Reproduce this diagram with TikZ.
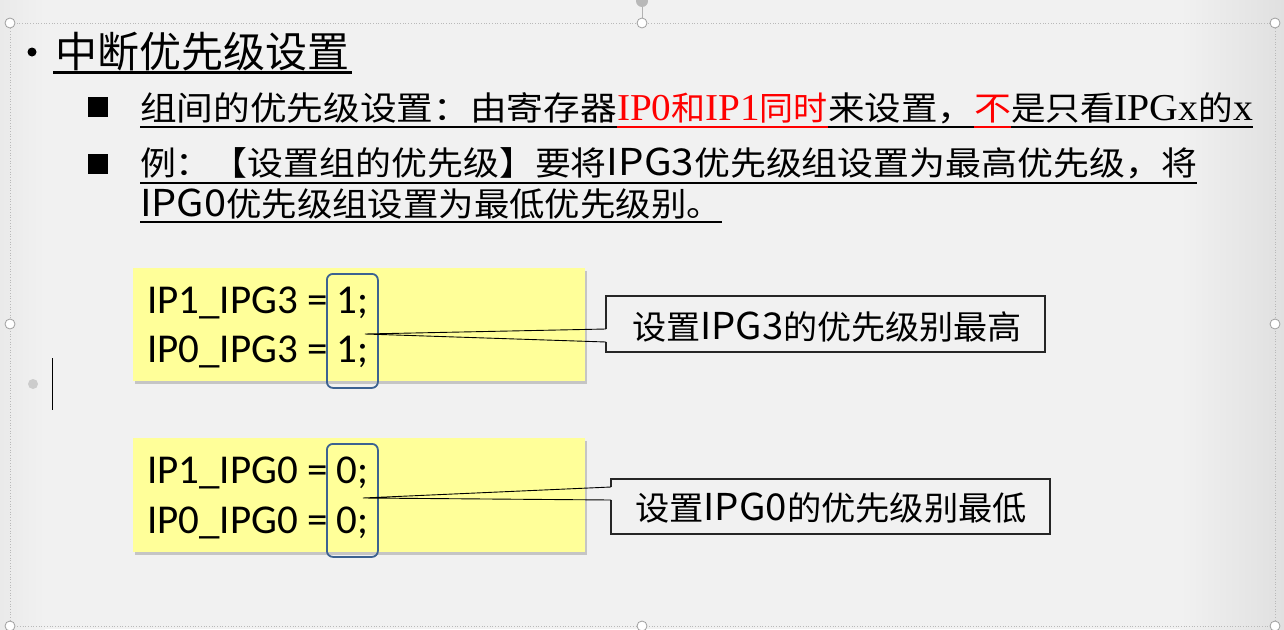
\documentclass[tikz,border=0pt]{standalone}
\usepackage{fontspec}
\usepackage{graphicx}
\setmainfont{Liberation Serif}
\newfontfamily\cjkfont{Noto Sans CJK SC}
\newfontfamily\codefamily{Carlito}
\newfontfamily\romanfamily{Liberation Serif}
\newcommand{\cf}{\cjkfont\fontsize{33}{36}\selectfont}
\newcommand{\lsf}{\cjkfont\fontsize{37}{36}\selectfont}
\newcommand{\lsr}{\romanfamily\fontsize{38}{36}\selectfont}
\newcommand{\codef}{\codefamily\fontsize{41}{44}\selectfont}
\newcommand{\fitto}[2]{\resizebox{#1pt}{\height}{#2}}
\definecolor{bgc}{RGB}{241,241,241}
\definecolor{bgl}{RGB}{234,234,234}
\definecolor{bgr}{RGB}{224,224,224}
\definecolor{yel}{RGB}{255,255,153}
\definecolor{bluel}{RGB}{60,98,145}
\definecolor{redc}{RGB}{255,0,0}
\tikzset{
  txt/.style={inner sep=0pt, outer sep=0pt, anchor=base west},
  ul/.style={line width=2pt},
  ybox/.style={fill=yel, draw=none, inner sep=0pt, anchor=north west},
  shadowbox/.style={fill=black, opacity=0.18, draw=none, inner sep=0pt, anchor=north west},
  bbox/.style={draw=bluel, line width=1.8pt, rounded corners=6pt, inner sep=0pt, anchor=north west},
  calloutline/.style={draw=black!85, line width=1.4pt, line join=miter},
  leader/.style={draw=black, line width=0.9pt},
  handle/.style={circle, draw=gray!75, fill=white, line width=0.8pt, minimum size=10pt, inner sep=0pt},
  selline/.style={draw=gray!55, dotted, line width=0.7pt},
  sqbullet/.style={fill=black, minimum size=20pt, inner sep=0pt},
}
\begin{document}
\begin{tikzpicture}[x=1pt, y=-1pt]
\useasboundingbox (0,0) rectangle (1284,629);
% background
\fill[bgc] (0,0) rectangle (1284,629);
\shade[left color=bgl, right color=bgc] (0,0) rectangle (45,629);
\shade[left color=bgc, right color=bgr] (1180,0) rectangle (1284,629);

% selection frame
\draw[selline] (10,23) rectangle (1275,626);
\draw[gray!60, line width=0.8pt] (642,23) -- (642,6);
\node[circle, fill=gray!55, minimum size=12pt, inner sep=0pt] (rot) at (642,1) {};
\foreach \p/\n in {{(10,23)}/h1,{(642,23)}/h2,{(1275,23)}/h3,{(10,324)}/h4,{(1275,324)}/h5,{(10,626)}/h6,{(642,626)}/h7,{(1275,626)}/h8}
  \node[handle] (\n) at \p {};

% placeholder dot and cursor
\node[circle, fill=gray!40, minimum size=10pt, inner sep=0pt] (pdot) at (33,384) {};
\draw[black, line width=1pt] (52,358) -- (52,410);

% title
\node[circle, fill=black, minimum size=9pt, inner sep=0pt] (b0) at (32,52) {};
\node[txt] (title) at (55,67) {\cjkfont\fontsize{42}{44}\selectfont 中断优先级设置};
\draw[ul, line width=2.4pt] (53,72.5) -- (352,72.5);

% bullets
\node[sqbullet] (s1) at (97.5,107) {};
\node[sqbullet] (s2) at (97.5,163.5) {};

% line 2
\node[txt] (l2a) at (140,120) {\fitto{477}{\cf 组间的优先级设置：由寄存器}};
\node[txt, text=redc] (l2b) at (617,120) {\fitto{211}{\lsr IP0\cf 和\lsr IP1\cf 同时}};
\node[txt] (l2c) at (828,120) {\fitto{146}{\cf 来设置，}};
\node[txt, text=redc] (l2d) at (974,120) {\fitto{37}{\cf 不}};
\node[txt] (l2e) at (1011,120) {\fitto{242}{\cf 是只看\lsr IPGx\cf 的\lsr x}};
\draw[ul, black] (140,127) -- (617,127);
\draw[ul, redc] (617,127) -- (828,127);
\draw[ul, black] (828,127) -- (974,127);
\draw[ul, redc] (974,127) -- (1011,127);
\draw[ul, black] (1011,127) -- (1253,127);

% line 3 and 4
\node[txt] (l3) at (140,175.5) {\fitto{1057}{\cf 例：【设置组的优先级】要将\lsf IPG3\cf 优先级组设置为最高优先级，将}};
\draw[ul] (140,183) -- (1197,183);
\node[txt] (l4) at (140,216) {\fitto{582}{\lsf IPG0\cf 优先级组设置为最低优先级别。}};
\draw[ul] (140,221.5) -- (722,221.5);

% yellow code boxes
\node[shadowbox, minimum width=452pt, minimum height=113pt] (sh1) at (135,271) {};
\node[ybox, minimum width=452.5pt, minimum height=113pt] (y1) at (132.5,268) {};
\node[shadowbox, minimum width=452pt, minimum height=114pt] (sh2) at (135,441) {};
\node[ybox, minimum width=452.5pt, minimum height=114pt] (y2) at (132.5,438) {};

\node[txt] (c11) at (147,313) {\codef IP1\_IPG3 = 1;};
\node[txt] (c12) at (147,362) {\codef IP0\_IPG3 = 1;};
\node[txt] (c21) at (147,483) {\codef IP1\_IPG0 = 0;};
\node[txt] (c22) at (147,533) {\codef IP0\_IPG0 = 0;};

% blue highlight boxes
\node[bbox, minimum width=51pt, minimum height=114pt] (bl1) at (326,273) {};
\node[bbox, minimum width=51pt, minimum height=113pt] (bl2) at (326,443) {};

% callout 1
\coordinate (tip1) at (365,334);
\node[txt] (t1) at (632,339.5) {\fitto{390}{\cf 设置\lsf IPG3\cf 的优先级别最高}};
\draw[calloutline] (606,329) -- (606,296) -- (1045,296) -- (1045,352) -- (606,352) -- (606,342);
\draw[leader] (606,329) -- (tip1) -- (606,342);

% callout 2
\coordinate (tip2) at (363,498);
\node[txt] (t2) at (635,520) {\fitto{392}{\cf 设置\lsf IPG0\cf 的优先级别最低}};
\draw[calloutline] (611,487) -- (611,479) -- (1050,479) -- (1050,534) -- (611,534) -- (611,500);
\draw[leader] (611,487) -- (tip2) -- (611,500);
\end{tikzpicture}
\end{document}
